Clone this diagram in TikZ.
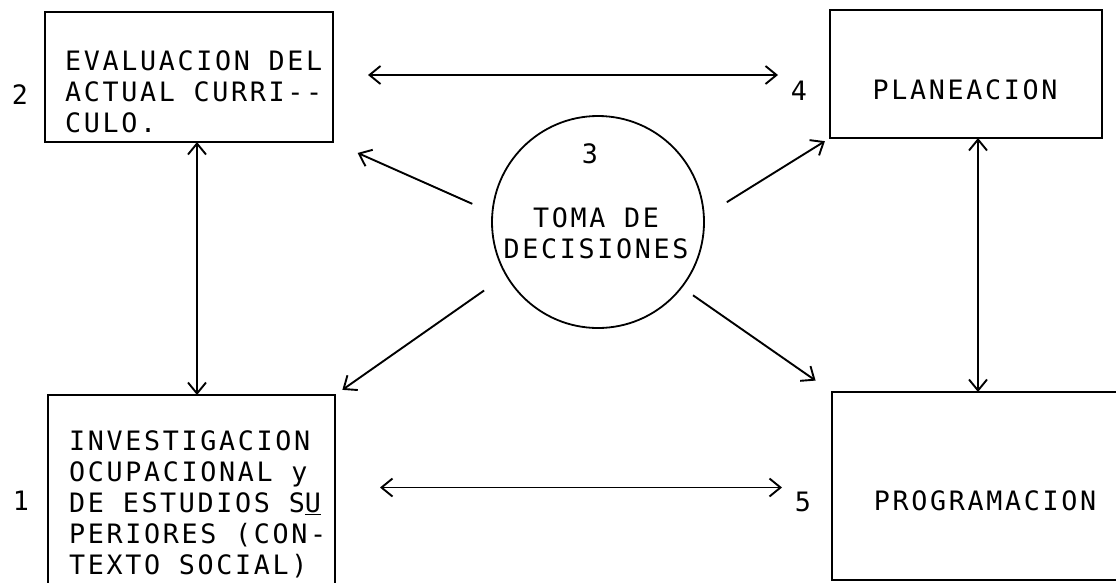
\documentclass[tikz,border=0pt]{standalone}
\usepackage{fontspec}
\newfontfamily\typewr[LetterSpace=10]{DejaVu Sans Mono}
\usetikzlibrary{arrows.meta, positioning, calc}

\begin{document}
\begin{tikzpicture}[x=1pt, y=-1pt,
    >={Straight Barb[length=11pt, width=18pt]},
    txt/.style={font=\typewr\fontsize{26.7}{31}\selectfont, inner sep=0pt},
    box/.style={draw, line width=1.4pt, inner sep=0pt, outer sep=0pt},
    link/.style={line width=1.9pt}]
    \useasboundingbox (0,0) rectangle (1116,582);

    % Boxes
    \node[box, minimum width=288pt, minimum height=130pt] (eval) at (189,77) {};
    \node[box, minimum width=287pt, minimum height=205pt] (inv) at (191.5,497.5) {};
    \node[box, minimum width=272pt, minimum height=128pt] (plan) at (966,74) {};
    \node[box, minimum width=298pt, minimum height=188pt] (prog) at (981,486) {};
    \node[draw, circle, line width=1.8pt, minimum size=212pt, inner sep=0pt, outer sep=0pt] (dec) at (598,222) {};

    % Texts
    \node[txt, anchor=north west, align=left] (evalTxt) at (65,50) {EVALUACION DEL\\ACTUAL CURRI--\\CULO.};
    \node[txt, anchor=north west, align=left] (invTxt) at (69,430) {INVESTIGACION\\OCUPACIONAL y\\DE ESTUDIOS S\underline{U}\\PERIORES (CON-\\TEXTO SOCIAL)};
    \node[txt] (planTxt) at (965,90) {PLANEACION};
    \node[txt] (progTxt) at (985,501) {PROGRAMACION};
    \node[txt, align=center] (decTxt) at (596,233) {TOMA DE\\DECISIONES};

    % Numbers
    \node[txt] (n1) at (21,501) {1};
    \node[txt] (n2) at (20,95) {2};
    \node[txt] (n3) at (590,154) {3};
    \node[txt] (n4) at (799,91) {4};
    \node[txt] (n5) at (803,502) {5};

    % Arrows between boxes
    \draw[<->, link] ([yshift=2pt,xshift=35pt]eval.east) -- ([yshift=2pt,xshift=-52pt]eval.east -| plan.west);
    \draw[<->, link] ([yshift=10pt,xshift=45pt]inv.east) -- ([yshift=10pt,xshift=-50pt]inv.east -| prog.west);
    \draw[<->, link] ([xshift=8pt]eval.south) -- ([xshift=8pt]eval.south |- inv.north);
    \draw[<->, link] ([xshift=12pt]plan.south) -- ([xshift=12pt]plan.south |- prog.north);

    % Arrows from the decision circle
    \draw[->, link, shorten <=22pt, shorten >=27pt] (dec.175) -- (eval.south east);
    \draw[->, link, shorten <=27pt, shorten >=6pt] (dec.3) -- (plan.south west);
    \draw[->, link, shorten <=27pt, shorten >=9pt] (dec.210) -- (inv.north east);
    \draw[->, link, shorten <=14pt, shorten >=20pt] (dec.322) -- (prog.north west);
\end{tikzpicture}
\end{document}
